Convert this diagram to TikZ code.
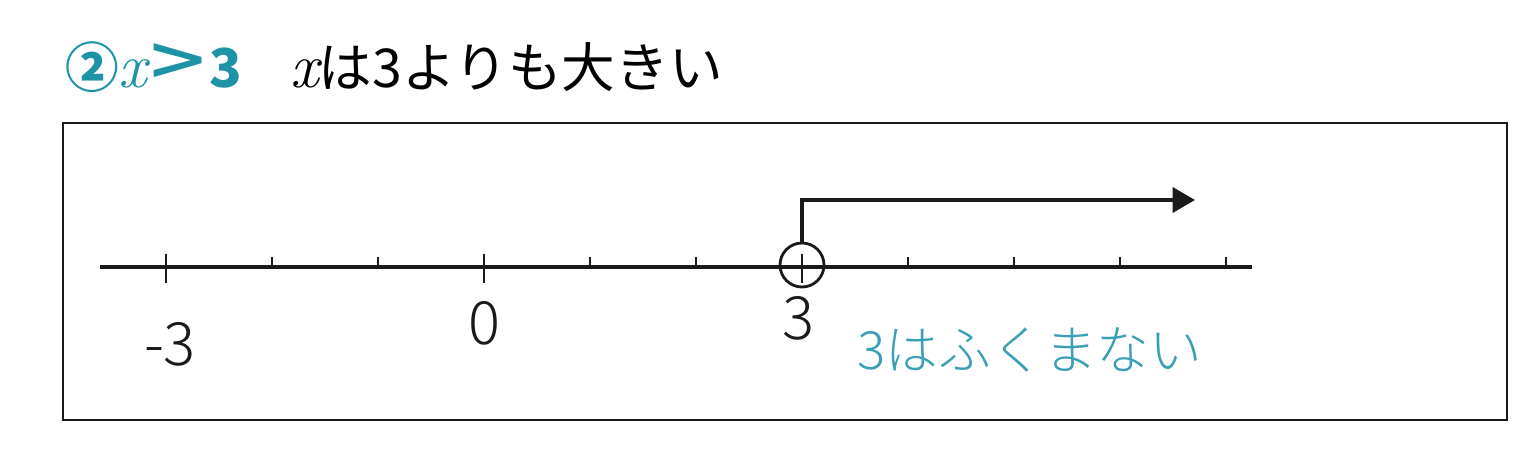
\documentclass[tikz,border=0pt]{standalone}
\usepackage{fontspec}
\setmainfont{Noto Sans CJK JP}
\newfontfamily\lmit{Latin Modern Roman}
\usepackage{tikz}
\usetikzlibrary{arrows.meta, positioning}
\definecolor{nlteal}{HTML}{1E93A5}
\definecolor{nlpen}{HTML}{3A9FB5}
\definecolor{nlink}{HTML}{1A1A1A}
\newcommand{\varx}{{\lmit\itshape\fontsize{36}{38}\selectfont x}}

\begin{document}
\begin{tikzpicture}[font=\fontsize{30.5}{34}\selectfont,
          frame/.style={draw=nlink, line width=1.1pt},
          axis/.style={nlink, line width=2pt},
          hand/.style={font=\fontsize{34}{38}\selectfont\fontspec{Noto Sans CJK JP Light}, text=nlink},
          note/.style={font=\fontsize{30}{34}\selectfont\fontspec{Noto Sans CJK JP Light}, text=nlpen}]
  \useasboundingbox (0,0) rectangle (30.72,9.5);
  % title
  \node[anchor=base west, text=nlteal, inner sep=0pt] (num) at (1.3,7.74)
    {\textbf{②}\varx\kern2pt{\fontspec{Noto Sans CJK JP Medium}\fontsize{38}{40}\selectfont\scalebox{1.45}[1.08]{>}}\kern2pt\textbf{3}};
  \node[anchor=base west, inner sep=0pt] (cap) at (5.8,7.74) {\varx は3よりも大きい};
  \draw[frame] (1.26,1.1) rectangle (30.14,7.04);
  % number line
  \coordinate (ax0) at (2.0,4.16);
  \coordinate (ax1) at (25.04,4.16);
  \draw[axis] (ax0) -- (ax1);
  \foreach \k in {-2,-1,1,2,4,5,6,7}
    \draw[axis, line width=1.5pt] (9.68+2.12*\k,4.16) -- ++(0,.2);
  \foreach \k in {-3,0,3}
    \draw[axis, line width=1.6pt] (9.68+2.12*\k,3.84) -- ++(0,.58);
  \node[draw=nlink, line width=1.6pt, circle, minimum size=.88cm, inner sep=0pt] (open) at (16.04,4.2) {};
  \coordinate (tip) at (23.9,5.5);
  \draw[line width=2.4pt, nlink, -{Triangle[length=.45cm, width=.5cm]}] (open.north) |- (tip);
  % labels
  \node[hand] (lm3) at (3.4,2.62) {-3};
  \node[hand] (l0) at (9.68,3.04) {0};
  \node[hand] (l3) at (15.96,3.14) {3};
  \node[note] (excl) at (20.6,2.5) {3はふくまない};
\end{tikzpicture}
\end{document}
